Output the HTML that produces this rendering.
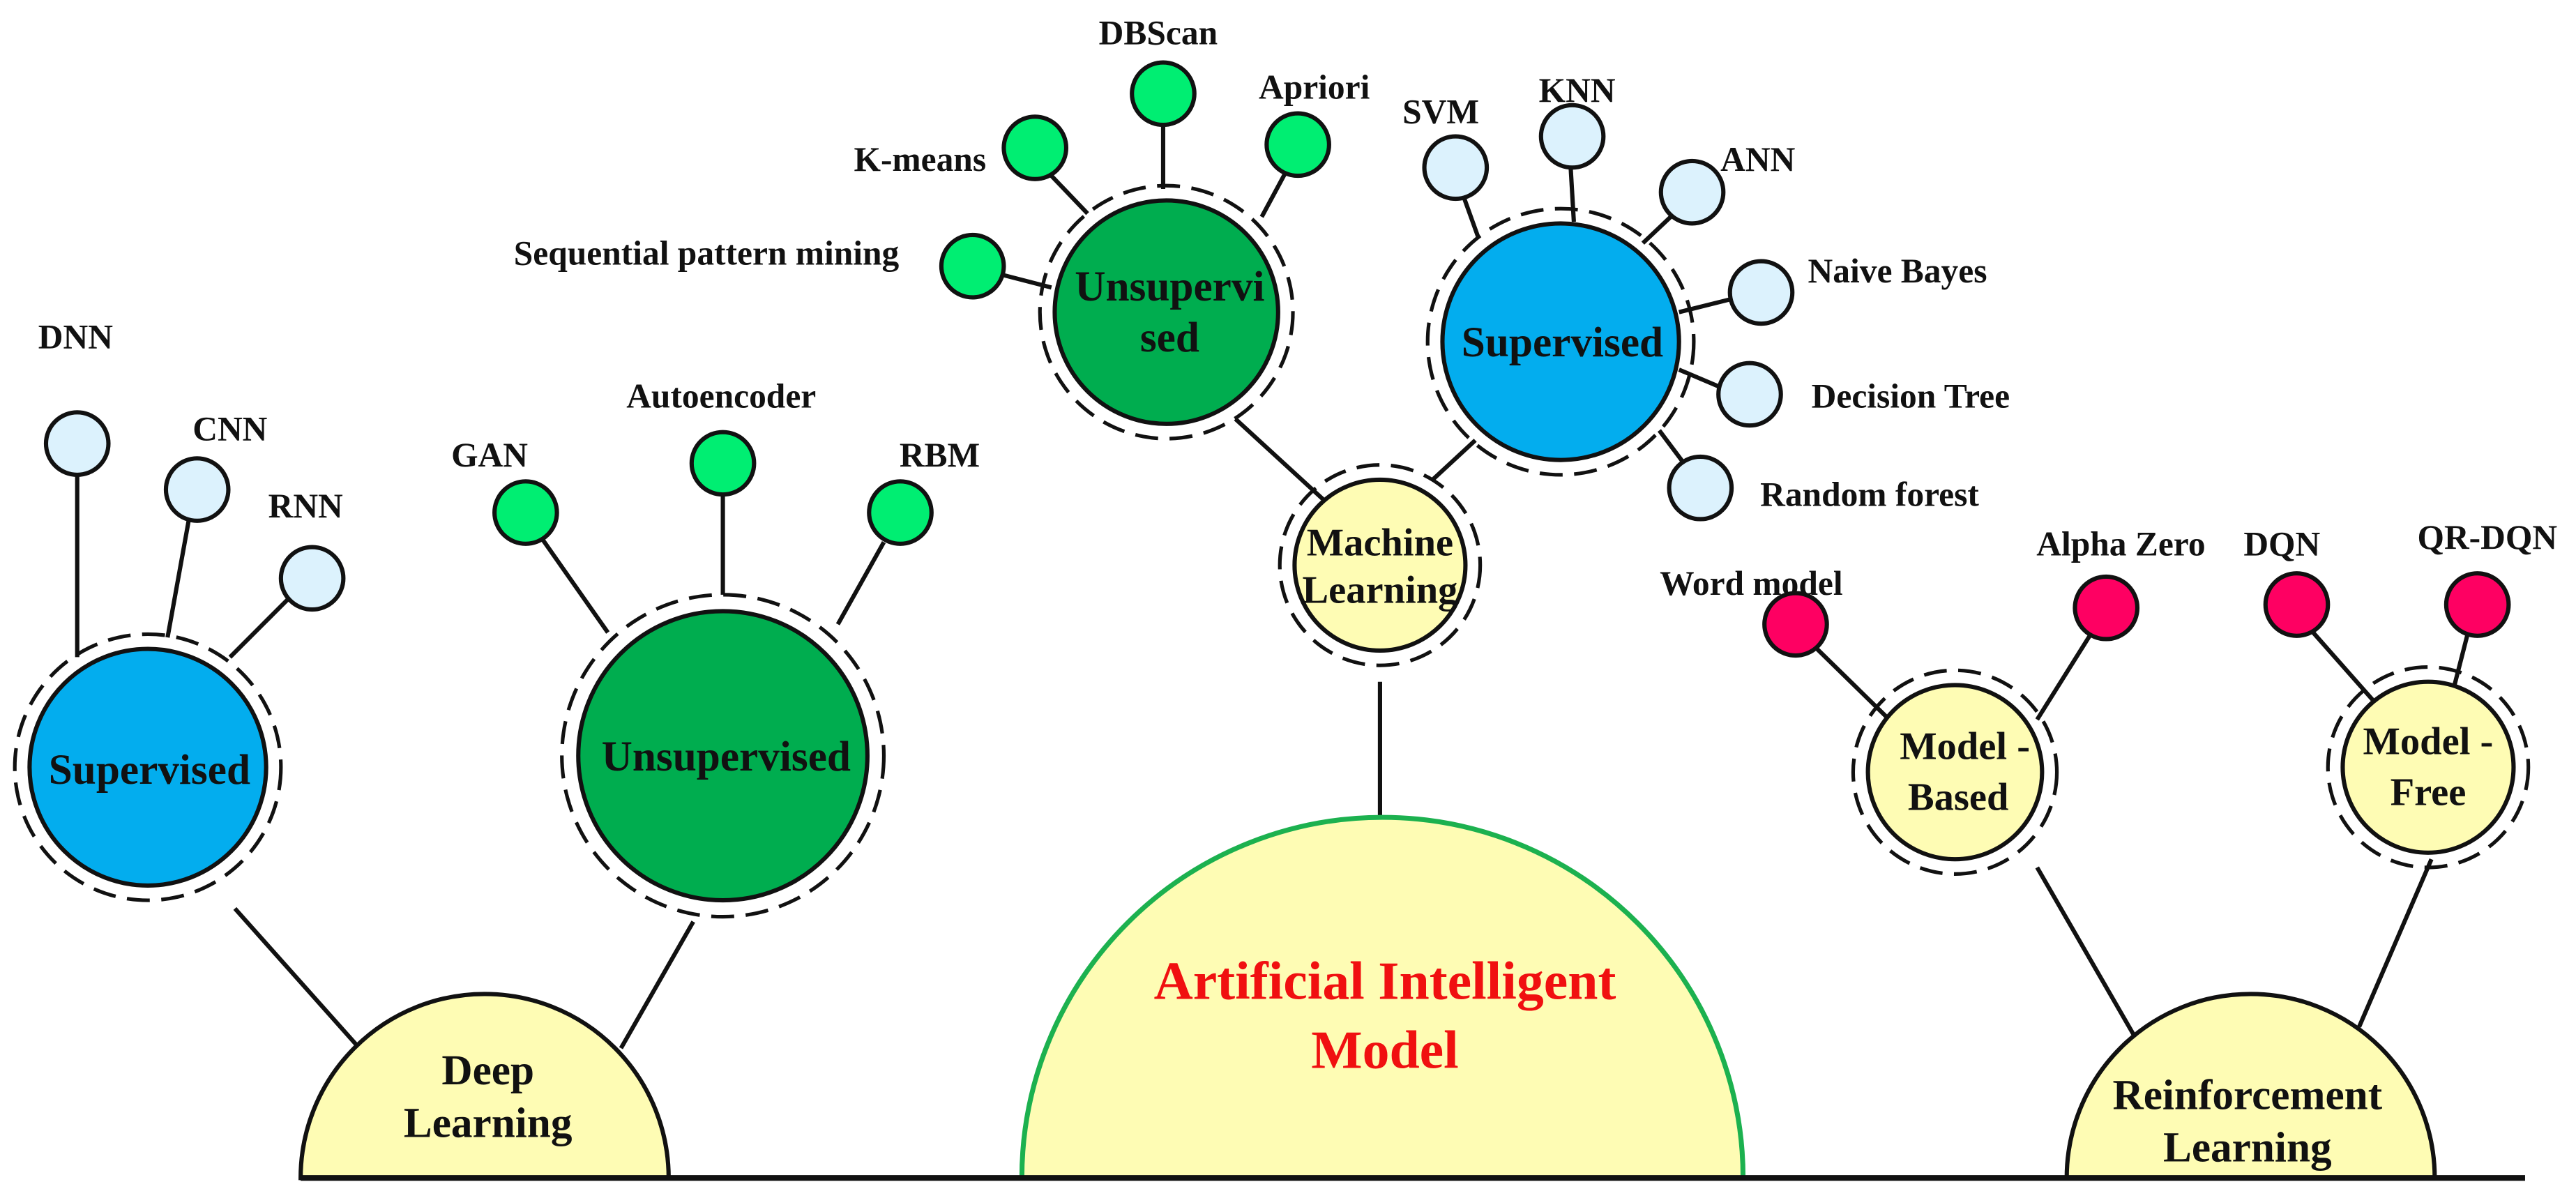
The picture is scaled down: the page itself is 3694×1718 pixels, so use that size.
<!DOCTYPE html>
<html><head><meta charset="utf-8"><style>
html,body{margin:0;padding:0;background:#fff;}
svg{display:block;}
text{font-family:"Liberation Serif",serif;font-weight:bold;text-anchor:middle;fill:#111;}
.l{font-size:21px;}
.n{font-size:26px;}
.s{font-size:24px;}
.ln{stroke:#111;stroke-width:2.6;fill:none;}
.d{stroke:#111;stroke-width:2.2;fill:none;stroke-dasharray:14 7;}
.c{stroke:#111;stroke-width:2.6;}
</style></head><body>
<svg width="3694" height="1718" viewBox="0 0 1568 729.2" preserveAspectRatio="none">
<g class="ln">
<line x1="840" y1="415" x2="840" y2="497"/>
<line x1="217" y1="636" x2="143" y2="553"/>
<line x1="378" y1="638" x2="422" y2="561"/>
<line x1="47" y1="288" x2="47" y2="400"/>
<line x1="115" y1="316" x2="102" y2="388"/>
<line x1="177" y1="363" x2="140" y2="400"/>
<line x1="330" y1="328" x2="370" y2="385"/>
<line x1="440" y1="300" x2="440" y2="362"/>
<line x1="538" y1="330" x2="510" y2="380"/>
<line x1="752" y1="255" x2="812" y2="310"/>
<line x1="898" y1="268" x2="872" y2="292"/>
<line x1="640" y1="107" x2="662" y2="130"/>
<line x1="708" y1="75" x2="708" y2="115"/>
<line x1="782" y1="106" x2="768" y2="132"/>
<line x1="609" y1="167" x2="640" y2="175"/>
<line x1="891" y1="120" x2="900" y2="145"/>
<line x1="956" y1="101" x2="958" y2="135"/>
<line x1="1018" y1="131" x2="1000" y2="148"/>
<line x1="1054" y1="182" x2="1022" y2="190"/>
<line x1="1048" y1="236" x2="1022" y2="225"/>
<line x1="1025" y1="282" x2="1010" y2="262"/>
<line x1="1104" y1="393" x2="1150" y2="438"/>
<line x1="1272" y1="387" x2="1240" y2="438"/>
<line x1="1300" y1="632" x2="1240" y2="528"/>
<line x1="1436" y1="625" x2="1480" y2="523"/>
<line x1="1408" y1="385" x2="1446" y2="428"/>
<line x1="1502" y1="386" x2="1492" y2="425"/>
</g>
<path d="M183 717 A112 112 0 0 1 407 717 Z" fill="#fefcb4" class="c"/>
<path d="M622 717 A218 218 0 0 1 1061 717 Z" fill="#fefcb4" stroke="#1cb14f" stroke-width="3"/>
<path d="M1258 717 A112 112 0 0 1 1482 717 Z" fill="#fefcb4" class="c"/>
<line x1="183" y1="717" x2="1537" y2="717" stroke="#111" stroke-width="3.5"/>
<circle cx="90" cy="467" r="72" fill="#03adee" class="c"/><circle cx="90" cy="467" r="81" class="d"/>
<circle cx="440" cy="460" r="88" fill="#00ad4f" class="c"/><circle cx="440" cy="460" r="98" class="d"/>
<circle cx="710" cy="190" r="68" fill="#00ad4f" class="c"/><circle cx="710" cy="190" r="77" class="d"/>
<circle cx="950" cy="208" r="72" fill="#03adee" class="c"/><circle cx="950" cy="208" r="81" class="d"/>
<circle cx="840" cy="344" r="52" fill="#fefcb4" class="c"/><circle cx="840" cy="344" r="61" class="d"/>
<circle cx="1190" cy="470" r="53" fill="#fefcb4" class="c"/><circle cx="1190" cy="470" r="62" class="d"/>
<circle cx="1478" cy="467" r="52" fill="#fefcb4" class="c"/><circle cx="1478" cy="467" r="61" class="d"/>
<g class="c" fill="#dcf2fd">
<circle cx="47" cy="270" r="19"/><circle cx="120" cy="298" r="19"/><circle cx="190" cy="352" r="19"/>
<circle cx="886" cy="102" r="19"/><circle cx="957" cy="83" r="19"/><circle cx="1030" cy="117" r="19"/>
<circle cx="1072" cy="178" r="19"/><circle cx="1065" cy="240" r="19"/><circle cx="1035" cy="297" r="19"/>
</g>
<g class="c" fill="#00ee72">
<circle cx="320" cy="312" r="19"/><circle cx="440" cy="282" r="19"/><circle cx="548" cy="312" r="19"/>
<circle cx="630" cy="90" r="19"/><circle cx="708" cy="57" r="19"/><circle cx="790" cy="88" r="19"/><circle cx="592" cy="162" r="19"/>
</g>
<g class="c" fill="#fe0062">
<circle cx="1093" cy="380" r="19"/><circle cx="1282" cy="370" r="19"/><circle cx="1398" cy="368" r="19"/><circle cx="1508" cy="368" r="19"/>
</g>
<g class="l">
<text x="46" y="212">DNN</text>
<text x="140" y="268">CNN</text>
<text x="186" y="315">RNN</text>
<text x="298" y="284">GAN</text>
<text x="439" y="248">Autoencoder</text>
<text x="572" y="284">RBM</text>
<text x="560" y="104">K-means</text>
<text x="705" y="27">DBScan</text>
<text x="800" y="60">Apriori</text>
<text x="430" y="161">Sequential pattern mining</text>
<text x="877" y="75">SVM</text>
<text x="960" y="62">KNN</text>
<text x="1070" y="104">ANN</text>
<text x="1155" y="172">Naive Bayes</text>
<text x="1163" y="248">Decision Tree</text>
<text x="1138" y="308">Random forest</text>
<text x="1066" y="362">Word model</text>
<text x="1291" y="338">Alpha Zero</text>
<text x="1389" y="338">DQN</text>
<text x="1514" y="334">QR-DQN</text>
</g>
<g class="n">
<text x="91" y="477">Supervised</text>
<text x="442" y="469">Unsupervised</text>
<text x="712" y="183">Unsupervi</text><text x="712" y="214">sed</text>
<text x="951" y="217">Supervised</text>
<text x="297" y="660">Deep</text><text x="297" y="692">Learning</text>
<text x="1368" y="675">Reinforcement</text><text x="1368" y="707">Learning</text>
</g>
<g class="s">
<text x="840" y="338">Machine</text><text x="840" y="367">Learning</text>
<text x="1196" y="462">Model -</text><text x="1192" y="493">Based</text>
<text x="1478" y="459">Model -</text><text x="1478" y="490">Free</text>
</g>
<text x="843" y="608" style="font-size:33px;fill:#f01010">Artificial Intelligent</text>
<text x="843" y="650" style="font-size:33px;fill:#f01010">Model</text>
</svg>
</body></html>
